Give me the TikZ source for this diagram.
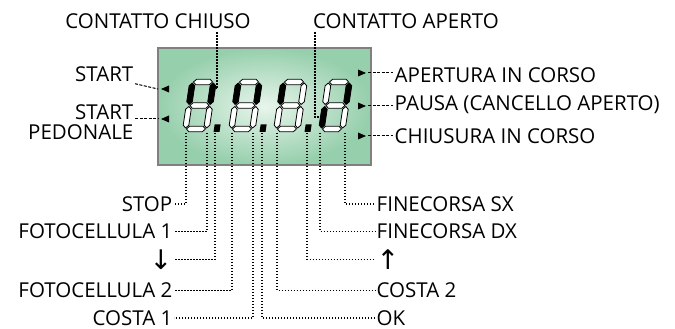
\documentclass[tikz,border=0pt]{standalone}
\usepackage{fontspec}
\setmainfont{Open Sans}
\newfontfamily\arrowfont{DejaVu Sans}
\definecolor{lcdgreen}{RGB}{150,207,172}
\definecolor{lcdlight}{RGB}{232,245,236}
\definecolor{lcdframe}{RGB}{128,128,128}
\tikzset{
  seg/.style={draw=black,line width=0.8pt,line join=round},
  dotline/.style={line width=1.4pt,dash pattern=on 1.4pt off 1.6pt},
  dashline/.style={line width=1pt,dash pattern=on 3pt off 1.5pt},
  lbl/.style={inner sep=1.5pt,font=\fontsize{20.5}{20}\selectfont},
  arrowlbl/.style={inner sep=1.5pt,font=\arrowfont\fontsize{27}{27}\selectfont},
}
% one segment, horizontal (y, x from, x to) or vertical (x, y from, y to)
\newcommand{\hseg}[4][white]{\filldraw[seg,fill=#1] (#3,#2) -- ({#3+2.8},{#2+2.8}) -- ({#4-2.8},{#2+2.8}) -- (#4,#2) -- ({#4-2.8},{#2-2.8}) -- ({#3+2.8},{#2-2.8}) -- cycle;}
\newcommand{\vseg}[4][white]{\filldraw[seg,fill=#1] (#2,#3) -- ({#2+2.8},{#3+2.8}) -- ({#2+2.8},{#4-2.8}) -- (#2,#4) -- ({#2-2.8},{#4-2.8}) -- ({#2-2.8},{#3+2.8}) -- cycle;}
% digit at x0, colours of the segments F, B, E, C
\newcommand{\lcddigit}[5]{%
  \begin{scope}[shift={(#1,197)},xslant=0.15]
    \hseg{50}{4}{23}
    \hseg{26.5}{4}{23}
    \hseg{3}{4}{23}
    \vseg[#2]{3}{27.5}{49}
    \vseg[#3]{24}{27.5}{49}
    \vseg[#4]{3}{4}{25.5}
    \vseg[#5]{24}{4}{25.5}
  \end{scope}}
\newcommand{\lcdpoint}[1]{%
  \fill[shift={(#1,197)},xslant=0.15] (31.5,0) rectangle (37.5,7.5);}

\begin{document}
\begin{tikzpicture}[x=1pt,y=1pt]
\useasboundingbox (0,0) rectangle (675,329);
% display
\shade[inner color=lcdlight,outer color=lcdgreen] (158,164) rectangle (371,281);
\draw[lcdframe,line width=2.4pt] (158,164) rectangle (371,281);
%
\lcddigit{182}{black}{black}{white}{white}
\lcddigit{228}{black}{black}{white}{white}
\lcddigit{273}{black}{white}{white}{white}
\lcddigit{318}{white}{black}{black}{white}
\lcdpoint{182}
\lcdpoint{228}
\lcdpoint{273}
% arrow marks
\fill (161,240) -- ++(8,3.5) -- ++(0,-7) -- cycle;
\fill (161,210) -- ++(8,3.5) -- ++(0,-7) -- cycle;
\fill (366,256) -- ++(-8,3.5) -- ++(0,-7) -- cycle;
\fill (366,223) -- ++(-8,3.5) -- ++(0,-7) -- cycle;
\fill (366,193) -- ++(-8,3.5) -- ++(0,-7) -- cycle;
\coordinate (lt1) at (158,240);
\coordinate (lt2) at (158,210);
\coordinate (rt1) at (368,256);
\coordinate (rt2) at (368,223);
\coordinate (rt3) at (368,193);
% segment ends
\coordinate (chiusoX) at (217,0);
\coordinate (chiusoSeg) at (215.5,241);
\coordinate (apertoX) at (315,0);
\coordinate (apertoSeg) at (319,212);
\coordinate (stopS) at (186,196);
\coordinate (foto1S) at (207,196);
\coordinate (downS) at (215,196);
\coordinate (foto2S) at (232,196);
\coordinate (costa1S) at (253,196);
\coordinate (okS) at (262,196);
\coordinate (costa2S) at (277,196);
\coordinate (upS) at (307,196);
\coordinate (fdxS) at (320,196);
\coordinate (fsxS) at (345,196);
% labels
\node[lbl] (chiuso) at (158,308) {CONTATTO CHIUSO};
\node[lbl] (aperto) at (406,308) {CONTATTO APERTO};
\node[lbl,anchor=east] (start) at (135,254.5) {START};
\node[lbl,anchor=east,align=right] (startped) at (135,207) {START\\PEDONALE};
\node[lbl,anchor=west] (apert) at (393,253.5) {APERTURA IN CORSO};
\node[lbl,anchor=west] (pausa) at (393,224) {PAUSA (CANCELLO APERTO)};
\node[lbl,anchor=west] (chius) at (393,193) {CHIUSURA IN CORSO};
%
\node[lbl,anchor=east] (stop) at (174,125) {STOP};
\node[lbl,anchor=east] (foto1) at (174,97.5) {FOTOCELLULA 1};
\node[arrowlbl,anchor=east] (down) at (174,69.5) {↓};
\node[lbl,anchor=east] (foto2) at (174,38.5) {FOTOCELLULA 2};
\node[lbl,anchor=east] (costa1) at (174,11) {COSTA 1};
\node[lbl,anchor=west] (fsx) at (375,125) {FINECORSA SX};
\node[lbl,anchor=west] (fdx) at (375,97.5) {FINECORSA DX};
\node[arrowlbl,anchor=west] (up) at (375,69.5) {↑};
\node[lbl,anchor=west] (costa2) at (375,38.5) {COSTA 2};
\node[lbl,anchor=west] (ok) at (375,11) {OK};
% connectors
\draw[dotline,shorten <=2pt] (chiuso.south -| chiusoX) |- (chiusoSeg);
\draw[dotline,shorten <=2pt] (aperto.south -| apertoX) |- (apertoSeg);
\draw[dashline] (start.south east) -- (lt1);
\draw[dashline] (lt2 -| startped.east) -- (lt2);
\draw[dashline] (rt1) -- (rt1 -| apert.west);
\draw[dashline] (rt2) -- (rt2 -| pausa.west);
\draw[dashline] (rt3) -- (rt3 -| chius.west);
%
\draw[dotline] (stopS) |- (stop);
\draw[dotline] (foto1S) |- (foto1);
\draw[dotline] (downS) |- (down);
\draw[dotline] (foto2S) |- (foto2);
\draw[dotline] (costa1S) |- (costa1);
\draw[dotline] (okS) |- (ok);
\draw[dotline] (costa2S) |- (costa2);
\draw[dotline] (upS) |- (up);
\draw[dotline] (fdxS) |- (fdx);
\draw[dotline] (fsxS) |- (fsx);
\end{tikzpicture}
\end{document}
